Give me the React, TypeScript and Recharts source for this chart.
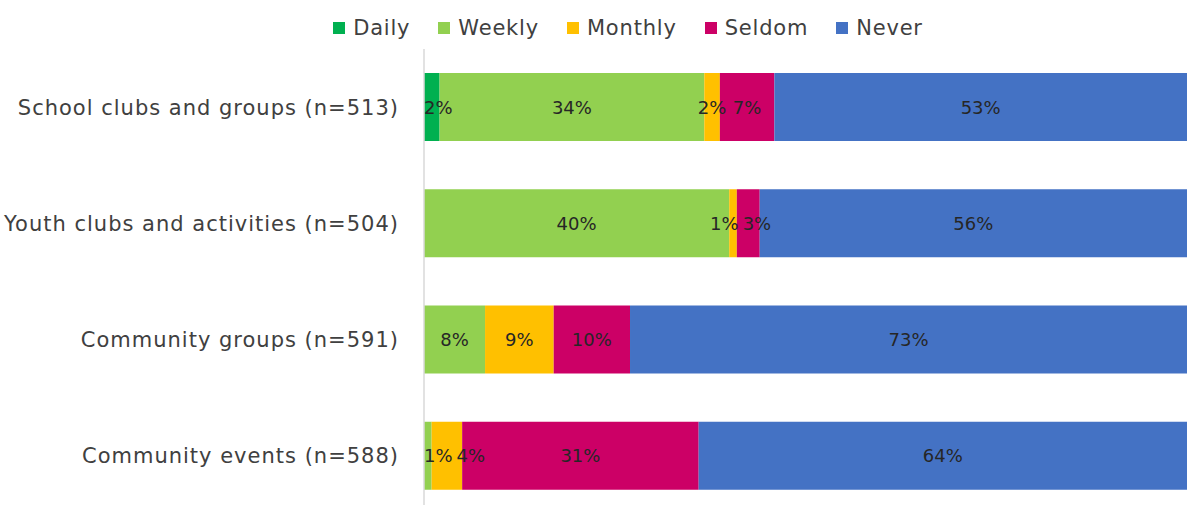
import React from "react";
import { BarChart, Bar, XAxis, YAxis, LabelList } from "recharts";

const categories = [
  "School clubs and groups (n=513)",
  "Youth clubs and activities (n=504)",
  "Community groups (n=591)",
  "Community events (n=588)",
];

// percentages per category, same order as categories
const daily = [2, 0, 0, 0];
const weekly = [34, 40, 8, 1];
const monthly = [2, 1, 9, 4];
const seldom = [7, 3, 10, 31];
const never = [53, 56, 73, 64];

const seriesNames = ["Daily", "Weekly", "Monthly", "Seldom", "Never"];
const seriesKeys = ["daily", "weekly", "monthly", "seldom", "never"];
const colors = ["#00B050", "#92D050", "#FFC000", "#CC0066", "#4472C4"];

const data = categories.map((name, i) => ({
  name,
  daily: daily[i],
  weekly: weekly[i],
  monthly: monthly[i],
  seldom: seldom[i],
  never: never[i],
}));

const FONT = "'DejaVu Sans', sans-serif";
const LABEL_SIZE = 18;

const LegendRow = () => (
  <div
    style={{
      position: "absolute",
      top: 16,
      left: 0,
      width: 1187,
      display: "flex",
      justifyContent: "center",
      gap: 28,
      paddingLeft: 69,
      boxSizing: "border-box",
      fontFamily: FONT,
      fontSize: 21,
      letterSpacing: 0.8,
      color: "#404040",
    }}
  >
    {seriesNames.map((n, i) => (
      <div key={n} style={{ display: "flex", alignItems: "center" }}>
        <span style={{ width: 12, height: 12, background: colors[i], marginRight: 8, display: "inline-block" }} />
        <span>{n}</span>
      </div>
    ))}
  </div>
);

const textW = (s: string) => {
  let w = 0;
  for (const c of s) w += c === "%" ? 0.95 : 0.636;
  return w * LABEL_SIZE;
};

// centred labels, nudged apart when neighbouring segments are too thin (like Excel does)
const makeLabel = (seriesIdx: number) => (props: any) => {
  const { x, y, width, height, index } = props;
  const row: any = data[index];
  const vals = seriesKeys.map((k) => row[k] as number);
  const total = vals.reduce((a, b) => a + b, 0);
  const v = vals[seriesIdx];
  if (!v) return null;
  const scale = width / (v / total);
  let cum = 0;
  for (let i = 0; i < seriesIdx; i++) cum += vals[i] / total;
  const origin = x - cum * scale;

  const items: { i: number; c: number; w: number }[] = [];
  let acc = 0;
  vals.forEach((val, i) => {
    const f = val / total;
    if (val) items.push({ i, c: origin + (acc + f / 2) * scale, w: textW(`${val}%`) });
    acc += f;
  });
  const gap = 4;
  if (items.length && items[0].c - items[0].w / 2 < origin) items[0].c = origin + items[0].w / 2;
  for (let pass = 0; pass < 3; pass++) {
    for (let j = 1; j < items.length; j++) {
      const a = items[j - 1];
      const b = items[j];
      const overlap = a.c + a.w / 2 + gap - (b.c - b.w / 2);
      if (overlap > 0) {
        const leftRoom = j - 1 === 0 ? Math.max(0, a.c - a.w / 2 - origin) : overlap / 2;
        const shiftA = Math.min(overlap / 2, leftRoom);
        a.c -= shiftA;
        b.c += overlap - shiftA;
      }
    }
  }
  const me = items.find((it) => it.i === seriesIdx)!;
  return (
    <text
      x={me.c}
      y={y + height / 2}
      textAnchor="middle"
      dominantBaseline="central"
      fontSize={LABEL_SIZE}
      fill="#262626"
      fontFamily={FONT}
    >
      {`${v}%`}
    </text>
  );
};

export default function App() {
  return (
    <div style={{ position: "absolute", left: 0, top: 0, width: 1187, height: 505, overflow: "hidden", background: "#fff" }}>
      <LegendRow />
      <BarChart
        width={1187}
        height={514}
        data={data}
        layout="vertical"
        stackOffset="expand"
        margin={{ top: 49, right: 0, bottom: 0, left: 0 }}
        barSize={68}
      >
        <XAxis type="number" hide domain={[0, 1]} />
        <YAxis
          type="category"
          dataKey="name"
          width={424}
          tickSize={0}
          tickMargin={25}
          axisLine={{ stroke: "#D9D9D9", strokeWidth: 1.5 }}
          tick={{ fontSize: 21, fill: "#404040", fontFamily: FONT, letterSpacing: 1 }}
        />
        {seriesKeys.map((k, i) => (
          <Bar key={k} dataKey={k} name={seriesNames[i]} stackId="a" fill={colors[i]} isAnimationActive={false}>
            <LabelList dataKey={k} content={makeLabel(i)} />
          </Bar>
        ))}
      </BarChart>
    </div>
  );
}
